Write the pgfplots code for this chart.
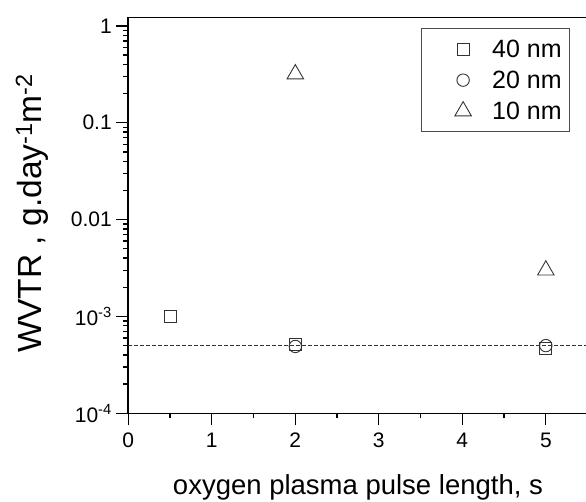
\documentclass[border=0pt]{standalone}
\usepackage{fontspec}
\setmainfont{Liberation Sans}
\usepackage{pgfplots}
\pgfplotsset{compat=1.18}
\definecolor{mk}{HTML}{333333}
\begin{document}
\begin{tikzpicture}
\begin{axis}[
  at={(0,0)}, anchor=south west,
  scale only axis, width=459.3pt, height=395.8pt,
  xmin=0, xmax=5.5, ymode=log, ymin=1e-4, ymax=1.22,
  xtick={0,1,2,3,4,5}, xticklabels={0,1,2,3,4,5},
  minor xtick={0.5,1.5,2.5,3.5,4.5},
  ytick={1e-4,1e-3,1e-2,1e-1,1},
  yticklabels={10\textsuperscript{-4},10\textsuperscript{-3},0.01,0.1,1},
  minor ytick={2e-4,3e-4,4e-4,5e-4,6e-4,7e-4,8e-4,9e-4,
               2e-3,3e-3,4e-3,5e-3,6e-3,7e-3,8e-3,9e-3,
               2e-2,3e-2,4e-2,5e-2,6e-2,7e-2,8e-2,9e-2,
               0.2,0.3,0.4,0.5,0.6,0.7,0.8,0.9},
  tick align=outside, tick pos=left,
  major tick length=12pt, minor tick length=5pt,
  axis line style={line width=1.6pt},
  every tick/.style={line width=1.3pt, black},
  tick label style={font=\fontsize{21}{21}\selectfont},
  xticklabel style={yshift=-4pt},
  yticklabel style={xshift=-1pt},
  xlabel={oxygen plasma pulse length, s},
  xlabel style={font=\fontsize{27.5}{27.5}\selectfont, at={(axis description cs:0.5,-0.206)}, anchor=base},
  ylabel={WVTR , g.day\textsuperscript{-1}m\textsuperscript{-2}},
  ylabel style={font=\fontsize{33.5}{33.5}\selectfont, at={(axis description cs:-0.19,0.505)}, anchor=base},
  legend style={at={(0.9617,0.9727)}, anchor=north east, draw=black!70, line width=0.8pt,
    font=\fontsize{25}{25}\selectfont, row sep=8pt, inner xsep=6pt, inner ysep=9pt},
  legend cell align=left,
  legend image code/.code={\path[draw=none] (0pt,0pt) -- (63pt,0pt);
     \draw[#1] plot coordinates {(36pt,0pt)};},
]
\addplot[mk, line width=0.8pt, dash pattern=on 3.5pt off 2.5pt, forget plot] coordinates {(0,5e-4) (5.5,5e-4)};
\addplot[only marks, mark=square, mark size=6pt, mk, line width=0.9pt, fill=white]
  coordinates {(0.5,1e-3) (2,5.2e-4) (5,4.7e-4)};
\addlegendentry{40 nm}
\addplot[only marks, mark=o, mark size=6.2pt, mk, line width=0.9pt, fill=white]
  coordinates {(2,4.9e-4) (5,5e-4)};
\addlegendentry{20 nm}
\addplot[only marks, mark=triangle, mark size=9.5pt, mk, line width=0.9pt, fill=white]
  coordinates {(2,0.318) (5,3.0e-3)};
\addlegendentry{10 nm}
\end{axis}
\pgfresetboundingbox
\useasboundingbox (-128.3pt,-88.7pt) rectangle (457.7pt,413.3pt);
\end{tikzpicture}
\end{document}
